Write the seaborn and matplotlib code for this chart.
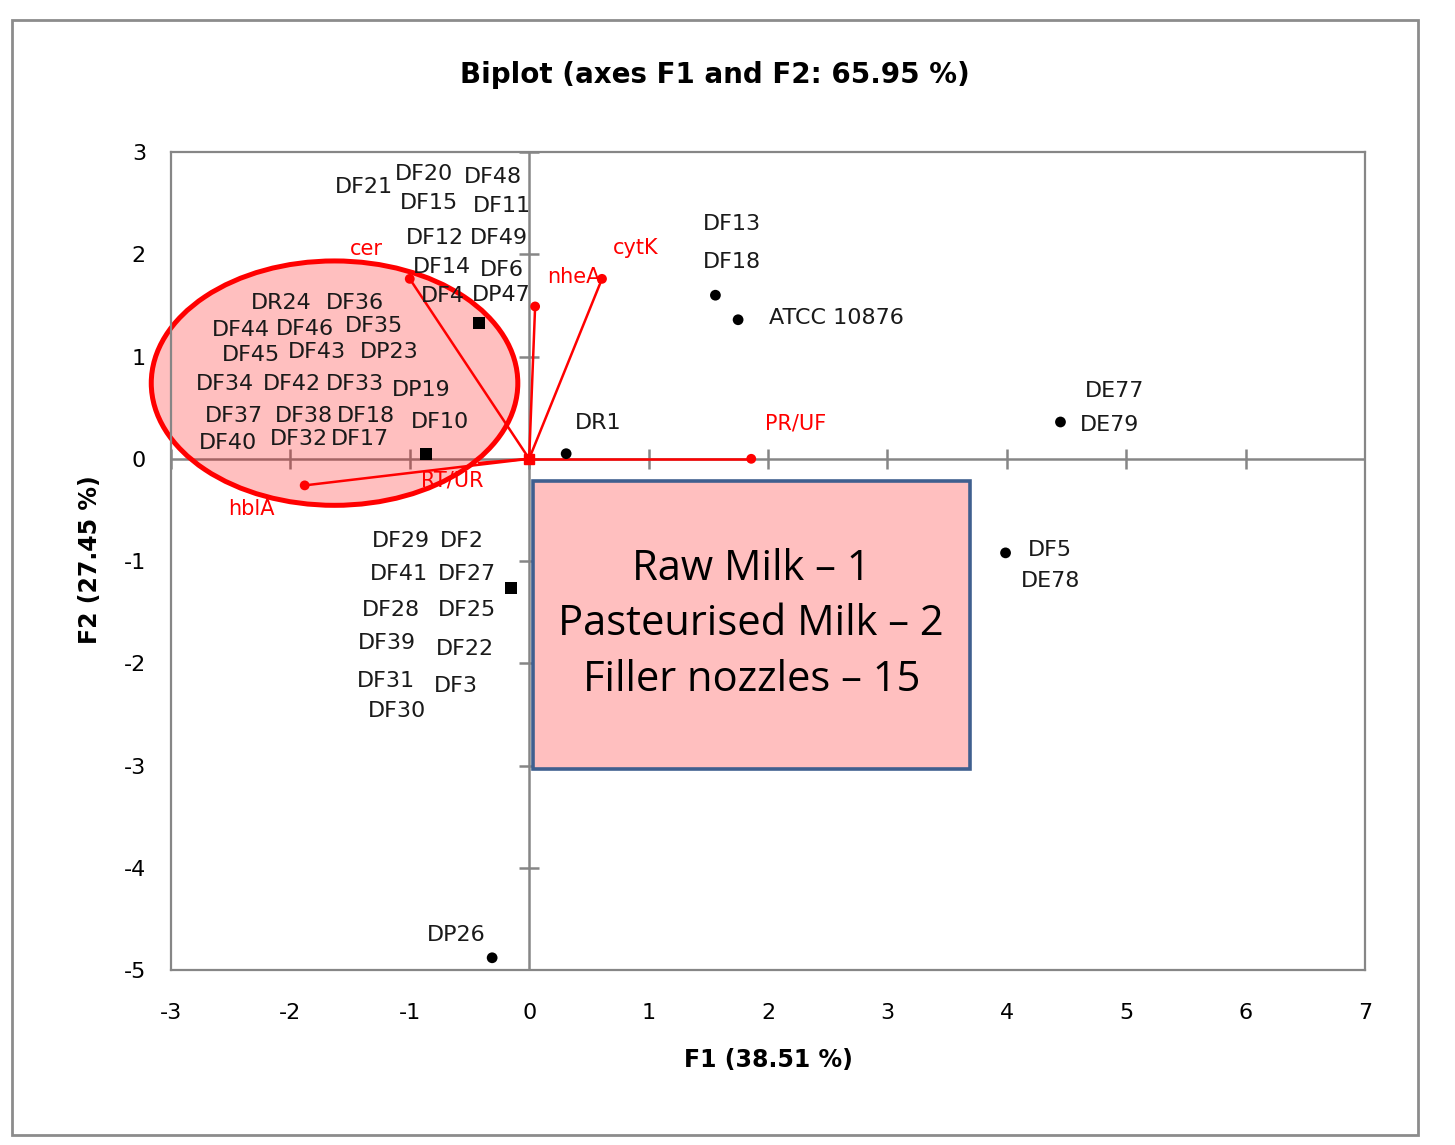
import matplotlib
matplotlib.use("Agg")
import matplotlib.pyplot as plt
import seaborn as sns
import pandas as pd
from matplotlib.patches import Ellipse, Rectangle

# ---------------------------------------------------------------
# data
# ---------------------------------------------------------------
obs_names = ["DF21", "DF20", "DF48", "DF15", "DF11", "DF12", "DF49", "DF14", "DF6", "DF4", "DP47",
             "DR24", "DF36", "DF44", "DF46", "DF35", "DF45", "DF43", "DP23",
             "DF34", "DF42", "DF33", "DP19", "DF37", "DF38", "DF18", "DF10",
             "DF40", "DF32", "DF17",
             "DF29", "DF2", "DF41", "DF27", "DF28", "DF25", "DF39", "DF22", "DF31", "DF3", "DF30",
             "DF13", "DF18", "ATCC 10876", "DR1", "DE77", "DE79", "DF5", "DE78", "DP26"]
obs_x = [-1.38, -0.88, -0.30, -0.84, -0.23, -0.79, -0.25, -0.73, -0.23, -0.72, -0.23,
         -2.08, -1.46, -2.41, -1.88, -1.30, -2.33, -1.78, -1.17,
         -2.55, -1.99, -1.46, -0.90, -2.47, -1.89, -1.37, -0.75,
         -2.52, -1.93, -1.42,
         -1.07, -0.56, -1.09, -0.52, -1.16, -0.52, -1.19, -0.54, -1.20, -0.61, -1.11,
         1.70, 1.70, 2.57, 0.58, 4.90, 4.86, 4.36, 4.37, -0.61]
obs_y = [2.66, 2.79, 2.76, 2.50, 2.47, 2.16, 2.16, 1.88, 1.85, 1.59, 1.60,
         1.52, 1.52, 1.26, 1.27, 1.30, 1.02, 1.04, 1.04,
         0.73, 0.73, 0.73, 0.67, 0.42, 0.42, 0.42, 0.36,
         0.15, 0.19, 0.19,
         -0.80, -0.80, -1.13, -1.13, -1.48, -1.48, -1.80, -1.86, -2.17, -2.22, -2.47,
         2.30, 1.92, 1.38, 0.35, 0.66, 0.33, -0.89, -1.20, -4.66]

# points shown with a dot
pt_x = [1.56, 1.75, 0.31, 4.45, 3.99, -0.31]
pt_y = [1.60, 1.36, 0.05, 0.36, -0.92, -4.88]

# group centroids (squares)
cen_x = [-0.42, -0.86, -0.15]
cen_y = [1.33, 0.05, -1.26]

# variables (vectors)
var_names = ["cer", "nheA", "cytK", "PR/UF", "RT/UR", "hblA"]
var_x = [-1.00, 0.05, 0.61, 1.86, -0.42, -1.88]
var_y = [1.76, 1.49, 1.76, 0.00, -0.04, -0.26]
var_lab_x = [-1.36, 0.37, 0.89, 2.23, -0.64, -2.33]
var_lab_y = [2.05, 1.78, 2.06, 0.35, -0.21, -0.49]

x_ticks = list(range(-3, 8))
y_ticks = list(range(-5, 4))

box_lines = ["Raw Milk \u2013 1", "Pasteurised Milk \u2013 2", "Filler nozzles \u2013 15"]

GREY = "#868686"
RED = "#FF0000"

sns.set_theme(style="white")
plt.rcParams["font.family"] = ["DejaVu Sans"]
plt.rcParams["axes.unicode_minus"] = False

fig = plt.figure(figsize=(14.55, 11.45), dpi=100)
ax = fig.add_axes([0.1175, 0.1528, 0.8206, 0.7144])

ax.set_xlim(x_ticks[0], x_ticks[-1])
ax.set_ylim(y_ticks[0], y_ticks[-1])
ax.set_xticks(x_ticks)
ax.set_yticks(y_ticks)
ax.tick_params(axis="x", length=0, pad=24, labelsize=16, colors="black")
ax.tick_params(axis="y", length=0, pad=18, labelsize=16, colors="black")
for sp in ax.spines.values():
    sp.set_color(GREY)
    sp.set_linewidth(1.6)

# zero axes with cross ticks
ax.axhline(0, color=GREY, lw=1.8, zorder=1)
ax.axvline(0, color=GREY, lw=1.8, zorder=1)
ax.plot(x_ticks, [0] * len(x_ticks), ls="none", marker="|", ms=14, mew=1.8, color=GREY, zorder=1)
ax.plot([0] * len(y_ticks), y_ticks, ls="none", marker="_", ms=14, mew=1.8, color=GREY, zorder=1)

# highlighted group
ax.add_patch(Ellipse((-1.63, 0.74), 3.07, 2.39, facecolor=(1, 0, 0, 0.25),
                     edgecolor=RED, lw=3.6, zorder=2, clip_on=False))

# variable vectors
for vx, vy in zip(var_x, var_y):
    ax.plot([0, vx], [0, vy], color=RED, lw=1.8, zorder=3)
sns.scatterplot(x=var_x[:4] + var_x[5:], y=var_y[:4] + var_y[5:], color=RED, s=50,
                edgecolor="none", ax=ax, zorder=3)
ax.plot([0], [0], marker="s", ms=7, color=RED, zorder=3)
for name, lx, ly in zip(var_names, var_lab_x, var_lab_y):
    ax.text(lx, ly, name, color=RED, fontsize=15, ha="center", va="center", zorder=6)

# observations
sns.scatterplot(x=pt_x, y=pt_y, color="black", s=60, edgecolor="none", ax=ax, zorder=4)
sns.scatterplot(x=cen_x, y=cen_y, color="black", marker="s", s=75, edgecolor="none",
                ax=ax, zorder=4)
for name, ox, oy in zip(obs_names, obs_x, obs_y):
    ax.text(ox, oy, name, color="#1a1a1a", fontsize=16, ha="center", va="center", zorder=6)

# legend box
ax.add_patch(Rectangle((0.03, -3.03), 3.66, 2.81, facecolor="#FFBFBF",
                       edgecolor="#3F5F8F", lw=2.6, zorder=5))
ax.text(1.86, -1.62, "\n".join(box_lines), fontsize=30, family="Open Sans",
        ha="center", va="center", linespacing=1.42, color="black", zorder=6)

# titles
fig.text(715 / 1455, 1 - 75 / 1145, "Biplot (axes F1 and F2: 65.95 %)",
         fontsize=20, fontweight="bold", ha="center", va="center", color="black")
fig.text(768 / 1455, 1 - 1060 / 1145, "F1 (38.51 %)", fontsize=17, fontweight="bold",
         ha="center", va="center", color="black")
fig.text(90 / 1455, 1 - 560 / 1145, "F2 (27.45 %)", fontsize=17, fontweight="bold",
         rotation=90, ha="center", va="center", color="black")

# outer chart border
fig.patches.append(Rectangle((12 / 1455, 10 / 1145), 1406 / 1455, 1115 / 1145,
                             transform=fig.transFigure, fill=False,
                             edgecolor="#8C8C8C", lw=2))

fig.savefig("out.png", dpi=100)
